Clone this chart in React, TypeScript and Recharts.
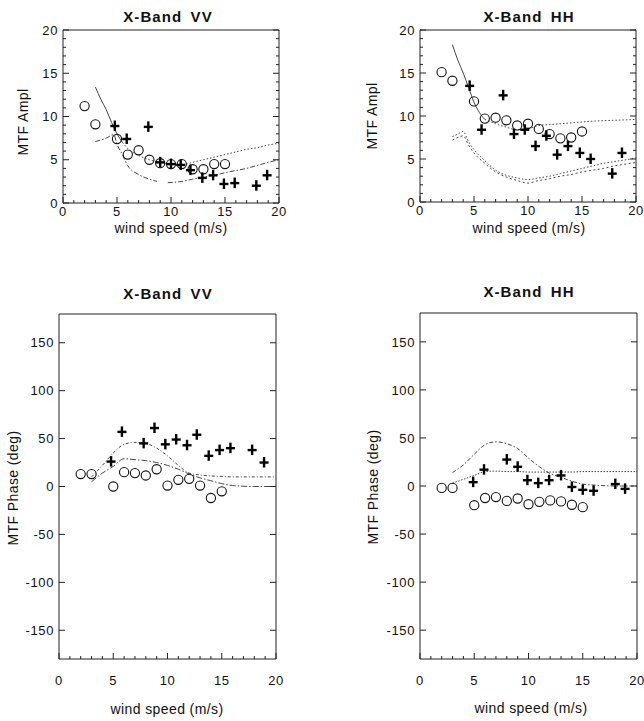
import React from 'react';
import { ComposedChart, XAxis, YAxis, Scatter, Line } from 'recharts';

const FONT = '"Liberation Sans", Arial, Helvetica, sans-serif';
const INK = '#111';
const LINE_INK = '#444';

// wind speed (m/s) of the circle points, same in all four panels
const circleSpeeds = [2, 3, 5, 6, 7, 8, 9, 10, 11, 12, 13, 14, 15];

// ---- X-Band VV, MTF amplitude
const vvAmplCircles = [11.2, 9.1, 7.4, 5.6, 6.1, 5.0, 4.6, 4.5, 4.5, 3.9, 3.9, 4.5, 4.5];
const vvAmplCrossSpeeds = [4.8, 5.9, 7.9, 9, 10, 10.9, 11.8, 12.9, 13.9, 14.9, 15.9, 17.9, 18.9];
const vvAmplCrosses = [8.9, 7.4, 8.8, 4.7, 4.5, 4.4, 3.8, 2.9, 3.2, 2.2, 2.3, 2.0, 3.2];
const vvAmplUpperSolidSpeeds = [3, 3.5, 4, 4.5, 5, 5.5];
const vvAmplUpperSolid = [13.4, 12.0, 10.8, 9.3, 8.0, 7.0];
const vvAmplUpperDotSpeeds = [5.5, 6, 7, 8, 9, 10, 11, 12, 13, 14, 15, 16, 17, 18, 19, 20];
const vvAmplUpperDot = [7.0, 6.3, 5.5, 5.0, 4.7, 4.5, 4.4, 4.7, 5.0, 5.3, 5.6, 5.9, 6.2, 6.4, 6.7, 6.9];
const vvAmplLowerSpeeds = [3, 4, 4.7, 5, 5.5, 6, 7, 8, 8.7, 9.2, 9.7, 11, 12, 13, 14, 15, 16, 17, 18, 19, 20];
const vvAmplLower = [7.1, 7.5, 7.9, 6.8, 5.6, 4.3, 3.3, 2.75, 2.5, null, 2.35, 2.5, 2.75, 3.0, 3.2, 3.5, 3.75, 4.0, 4.35, 4.7, 5.0];

// ---- X-Band HH, MTF amplitude
const hhAmplCircles = [15.1, 14.1, 11.7, 9.7, 9.8, 9.5, 8.9, 9.1, 8.5, 7.9, 7.4, 7.5, 8.2];
const hhAmplCrossSpeeds = [4.6, 5.7, 7.7, 8.7, 9.7, 10.7, 11.7, 12.7, 13.7, 14.8, 15.8, 17.8, 18.7];
const hhAmplCrosses = [13.5, 8.4, 12.4, 7.9, 8.4, 6.5, 7.7, 5.5, 6.5, 5.7, 5.0, 3.3, 5.7];
const hhAmplUpperSolidSpeeds = [3, 3.5, 4, 4.5, 5, 5.5, 6];
const hhAmplUpperSolid = [18.3, 16.5, 15.0, 13.3, 11.6, 10.4, 9.6];
const hhAmplUpperDotSpeeds = [6, 7, 8, 9, 10, 11, 12, 14, 16, 18, 20];
const hhAmplUpperDot = [9.6, 9.1, 8.7, 8.4, 8.5, 8.9, 9.0, 9.2, 9.4, 9.5, 9.6];
const hhAmplLowerSpeeds = [3, 3.5, 4, 4.5, 5, 6, 7, 8, 9, 10, 11, 12, 13, 14, 15, 16, 17, 18, 19, 20];
const hhAmplLowerA = [7.6, 7.9, 8.2, 7.0, 6.1, 4.8, 3.7, 3.1, 2.8, 2.6, 2.8, 3.0, 3.3, 3.6, 3.9, 4.2, 4.5, 4.7, 4.9, 5.1];
const hhAmplLowerB = [7.2, 7.5, 7.7, 6.6, 5.7, 4.5, 3.5, 2.9, 2.5, 2.2, 2.5, 2.7, 3.0, 3.2, 3.5, 3.7, 3.9, 4.2, 4.4, 4.6];

// ---- X-Band VV, MTF phase (deg)
const vvPhaseCircles = [13, 13, 0, 15, 14, 11.5, 18, 1, 7, 8, 1, -12, -5];
const vvPhaseCrossSpeeds = [4.8, 5.8, 7.8, 8.8, 9.8, 10.8, 11.8, 12.7, 13.8, 14.8, 15.8, 17.8, 18.9];
const vvPhaseCrosses = [26, 57, 45, 61, 44, 49, 43, 54, 32, 38, 40, 38, 25];
const phaseModelSpeeds = [3, 4, 5, 6, 7, 8, 9, 10, 11, 12, 13, 14, 15, 16, 18, 20];
const vvPhaseUpper = [10, 22, 35, 44, 46, 45, 40, 32, 22, 14, 12, 11, 10.5, 10, 10, 10];
const vvPhaseLower = [5, 14, 21, 29, 28, 27, 25, 22, 18, 13, 9, 6, 3, 1, 0, 0];

// ---- X-Band HH, MTF phase (deg)
const hhPhaseCircles = [-2, -2, -20, -12.5, -11.5, -15.5, -13, -19, -16.5, -15, -16, -19.5, -22];
const hhPhaseCrossSpeeds = [4.9, 5.9, 8, 9, 9.9, 10.9, 11.9, 13, 14, 15, 16, 18, 18.9];
const hhPhaseCrosses = [4, 17, 27.5, 20, 6, 3, 6, 11, -1, -4, -5, 2, -3];
const hhPhaseUpper = [14, 22, 33, 43, 46, 44, 39, 29, 20, 13, 9, 5, 2, 1, 0, 0];
const hhPhaseFlat = [3, 7, 11, 15, 15.5, 15, 15, 14.5, 14.5, 14.5, 14.5, 14.5, 15, 15, 15, 15];

// tick values
const speedTicks = [0, 1, 2, 3, 4, 5, 6, 7, 8, 9, 10, 11, 12, 13, 14, 15, 16, 17, 18, 19, 20];
const amplTicks = [0, 1, 2, 3, 4, 5, 6, 7, 8, 9, 10, 11, 12, 13, 14, 15, 16, 17, 18, 19, 20];
const phaseTicks = [-150, -100, -50, 0, 50, 100, 150];

type Pt = { x: number; y: number | null };
const pts = (xs: number[], ys: (number | null)[]): Pt[] => xs.map((x, i) => ({ x, y: ys[i] }));

const tickText = { fontFamily: FONT, fontSize: 13, fill: INK, letterSpacing: 0.6 };

const isFive = (v: number) => v % 5 === 0;
const always = () => true;

const bottomTick = (gap: number) => (p: any) => {
  const v = p.payload.value;
  const major = isFive(v);
  return (
    <g>
      <line x1={p.x} x2={p.x} y1={p.y} y2={p.y - (major ? 6 : 3)} stroke="#222" />
      {major && (
        <text x={p.x} y={p.y + gap} textAnchor="middle" {...tickText}>
          {v}
        </text>
      )}
    </g>
  );
};

const topTick = (p: any) => {
  const major = isFive(p.payload.value);
  return <line x1={p.x} x2={p.x} y1={p.y} y2={p.y + (major ? 6 : 3)} stroke="#222" />;
};

const leftTick = (isMajor: (v: number) => boolean) => (p: any) => {
  const v = p.payload.value;
  const major = isMajor(v);
  return (
    <g>
      <line x1={p.x} x2={p.x + (major ? 6 : 3)} y1={p.y} y2={p.y} stroke="#222" />
      {major && (
        <text x={p.x - 5} y={p.y} dy="0.36em" textAnchor="end" {...tickText}>
          {v}
        </text>
      )}
    </g>
  );
};

const rightTick = (isMajor: (v: number) => boolean) => (p: any) => {
  const major = isMajor(p.payload.value);
  return <line x1={p.x} x2={p.x - (major ? 6 : 3)} y1={p.y} y2={p.y} stroke="#222" />;
};

const OpenCircle = (p: any) => (
  <circle cx={p.cx} cy={p.cy} r={4.6} fill="none" stroke={INK} strokeWidth={1.1} />
);

const Plus = (p: any) => (
  <g stroke="#000" strokeWidth={2.4}>
    <line x1={p.cx - 4.5} x2={p.cx + 4.5} y1={p.cy} y2={p.cy} />
    <line x1={p.cx} x2={p.cx} y1={p.cy - 5.5} y2={p.cy + 5} />
  </g>
);

type Curve = { data: Pt[]; dash?: string };

interface PanelProps {
  left: number;
  top: number;
  w: number;
  h: number;
  yDomain: [number, number];
  yTicks: number[];
  yMajor: (v: number) => boolean;
  labelGap: number;
  circles: Pt[];
  crosses: Pt[];
  curves: Curve[];
}

function Panel({ left, top, w, h, yDomain, yTicks, yMajor, labelGap, circles, crosses, curves }: PanelProps) {
  const width = 60 + w + 1 + 10;
  const height = 11 + h + 40;
  return (
    <div style={{ position: 'absolute', left: left - 60, top: top - 11 }}>
      <ComposedChart width={width} height={height} margin={{ top: 10, right: 10, bottom: 0, left: 0 }}>
        <XAxis
          type="number"
          dataKey="x"
          domain={[0, 20]}
          ticks={speedTicks}
          interval={0}
          allowDataOverflow
          height={40}
          tickSize={0}
          tickMargin={0}
          tickLine={false}
          axisLine={{ stroke: '#222' }}
          tick={bottomTick(labelGap)}
        />
        <XAxis
          xAxisId="top"
          orientation="top"
          type="number"
          domain={[0, 20]}
          ticks={speedTicks}
          interval={0}
          allowDataOverflow
          height={1}
          tickSize={0}
          tickMargin={0}
          tickLine={false}
          axisLine={{ stroke: '#222' }}
          tick={topTick}
        />
        <YAxis
          type="number"
          dataKey="y"
          domain={yDomain}
          ticks={yTicks}
          interval={0}
          allowDataOverflow
          width={60}
          tickSize={0}
          tickMargin={0}
          tickLine={false}
          axisLine={{ stroke: '#222' }}
          tick={leftTick(yMajor)}
        />
        <YAxis
          yAxisId="right"
          orientation="right"
          type="number"
          domain={yDomain}
          ticks={yTicks}
          interval={0}
          allowDataOverflow
          width={1}
          tickSize={0}
          tickMargin={0}
          tickLine={false}
          axisLine={{ stroke: '#222' }}
          tick={rightTick(yMajor)}
        />
        {curves.map((c, i) => (
          <Line
            key={i}
            data={c.data}
            dataKey="y"
            type="monotone"
            stroke={LINE_INK}
            strokeWidth={1}
            strokeDasharray={c.dash}
            dot={false}
            activeDot={false}
            isAnimationActive={false}
          />
        ))}
        <Scatter data={circles} dataKey="y" shape={OpenCircle} isAnimationActive={false} />
        <Scatter data={crosses} dataKey="y" shape={Plus} isAnimationActive={false} />
      </ComposedChart>
    </div>
  );
}

const centered = (x: number, y: number, extra: React.CSSProperties = {}): React.CSSProperties => ({
  position: 'absolute',
  left: x,
  top: y,
  transform: 'translate(-50%, -50%)',
  whiteSpace: 'nowrap',
  lineHeight: 1,
  fontFamily: FONT,
  color: INK,
  ...extra,
});

const titleStyle = { fontSize: 15, fontWeight: 700, letterSpacing: 1.1, wordSpacing: 3 };
const axisStyle = { fontSize: 14, letterSpacing: 0.4 };

function Title({ x, y, text }: { x: number; y: number; text: string }) {
  return <div style={centered(x, y, titleStyle)}>{text}</div>;
}

function XLabel({ x, y }: { x: number; y: number }) {
  return <div style={centered(x, y, axisStyle)}>wind speed (m/s)</div>;
}

function YLabel({ x, y, text }: { x: number; y: number; text: string }) {
  return (
    <div style={centered(x, y, { ...axisStyle, transform: 'translate(-50%, -50%) rotate(-90deg)' })}>{text}</div>
  );
}

export default function App() {
  return (
    <div style={{ position: 'absolute', left: 0, top: 0, width: 644, height: 721, background: '#fff', overflow: 'hidden' }}>
      <Panel
        left={63}
        top={30}
        w={216}
        h={173}
        yDomain={[0, 20]}
        yTicks={amplTicks}
        yMajor={isFive}
        labelGap={13}
        circles={pts(circleSpeeds, vvAmplCircles)}
        crosses={pts(vvAmplCrossSpeeds, vvAmplCrosses)}
        curves={[
          { data: pts(vvAmplUpperSolidSpeeds, vvAmplUpperSolid) },
          { data: pts(vvAmplUpperDotSpeeds, vvAmplUpperDot), dash: '1.5 2' },
          { data: pts(vvAmplLowerSpeeds, vvAmplLower), dash: '5 2 1.5 2' },
        ]}
      />
      <Panel
        left={420}
        top={30}
        w={216}
        h={172}
        yDomain={[0, 20]}
        yTicks={amplTicks}
        yMajor={isFive}
        labelGap={13}
        circles={pts(circleSpeeds, hhAmplCircles)}
        crosses={pts(hhAmplCrossSpeeds, hhAmplCrosses)}
        curves={[
          { data: pts(hhAmplUpperSolidSpeeds, hhAmplUpperSolid) },
          { data: pts(hhAmplUpperDotSpeeds, hhAmplUpperDot), dash: '1.5 2' },
          { data: pts(hhAmplLowerSpeeds, hhAmplLowerA), dash: '1.5 2' },
          { data: pts(hhAmplLowerSpeeds, hhAmplLowerB), dash: '2 2.5' },
        ]}
      />
      <Panel
        left={59}
        top={314}
        w={217}
        h={345}
        yDomain={[-180, 180]}
        yTicks={phaseTicks}
        yMajor={always}
        labelGap={26}
        circles={pts(circleSpeeds, vvPhaseCircles)}
        crosses={pts(vvPhaseCrossSpeeds, vvPhaseCrosses)}
        curves={[
          { data: pts(phaseModelSpeeds, vvPhaseUpper), dash: '3 2 1 2' },
          { data: pts(phaseModelSpeeds, vvPhaseLower), dash: '6 2 1.5 2' },
        ]}
      />
      <Panel
        left={420}
        top={313}
        w={217}
        h={346}
        yDomain={[-180, 180]}
        yTicks={phaseTicks}
        yMajor={always}
        labelGap={26}
        circles={pts(circleSpeeds, hhPhaseCircles)}
        crosses={pts(hhPhaseCrossSpeeds, hhPhaseCrosses)}
        curves={[
          { data: pts(phaseModelSpeeds, hhPhaseUpper), dash: '4 2 1.5 2' },
          { data: pts(phaseModelSpeeds, hhPhaseFlat), dash: '1.5 1.5' },
        ]}
      />

      <Title x={168} y={16} text="X-Band VV" />
      <Title x={529} y={16} text="X-Band HH" />
      <Title x={168} y={293} text="X-Band VV" />
      <Title x={529} y={291} text="X-Band HH" />

      <XLabel x={171} y={228} />
      <XLabel x={529} y={228} />
      <XLabel x={167} y={709} />
      <XLabel x={531} y={708} />

      <YLabel x={23} y={122} text="MTF Ampl" />
      <YLabel x={372} y={116} text="MTF Ampl" />
      <YLabel x={13} y={488} text="MTF Phase (deg)" />
      <YLabel x={373} y={487} text="MTF Phase (deg)" />
    </div>
  );
}
